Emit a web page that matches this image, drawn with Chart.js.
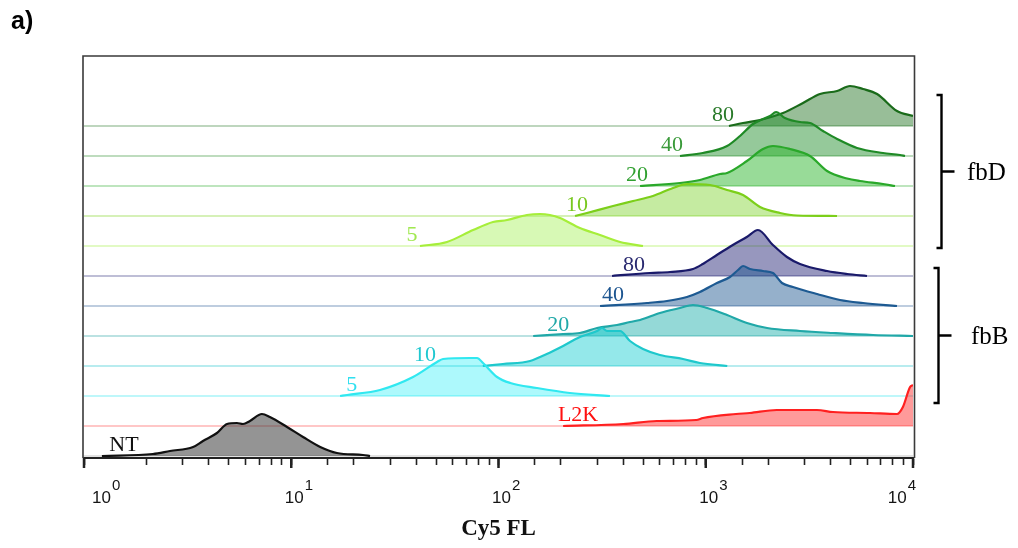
<!DOCTYPE html>
<html>
<head>
<meta charset="utf-8">
<script src="https://cdn.jsdelivr.net/npm/chart.js@4.4.1/dist/chart.umd.min.js"></script>
<style>
  html, body { margin: 0; padding: 0; background: #fff; }
  #wrap { width: 1018px; height: 548px; }
</style>
</head>
<body>
<div id="wrap"><canvas id="myChart"></canvas></div>
<script>
// Cy5 fluorescence (x) and histogram height per sample
const ntFL = [1.22, 2.15, 2.6, 3.36, 3.75, 4.38, 4.9, 5.47, 5.85, 6.32, 7.22, 7.89, 9.54, 11.4, 13.8, 16.6, 22.2, 24];
const ntCount = [0, 2, 5, 9, 15, 23, 32, 33, 32, 35, 42, 39, 29, 19, 9, 3, 1, 0];

const l2kFL = [205, 400, 580, 900, 970, 1400, 1630, 2200, 3440, 4110, 6200, 8370, 8940, 9680, 10000];
const l2kCount = [0, 2, 5, 6, 8, 12, 13, 16, 16, 14, 13, 12, 19, 39, 41];

const fbB5FL = [17.2, 18.6, 26.8, 38.7, 50.5, 54, 72.9, 78.8, 84.2, 98.4, 114, 153, 221, 345];
const fbB5Count = [0, 1, 6, 19, 34, 37, 38, 38, 33, 19, 13, 8, 3, 0];

const fbB10FL = [84, 105, 142, 171, 205, 247, 299, 316, 334, 386, 431, 498, 601, 777, 937, 1270];
const fbB10Count = [0, 2, 5, 12, 20, 29, 35, 38, 35, 35, 25, 17, 11, 7, 3, 0];

const fbB20FL = [147, 205, 247, 299, 373, 431, 482, 601, 751, 868, 1015, 1267, 1580, 1976, 2850, 4110, 6420, 10000];
const fbB20Count = [0, 2, 3, 8, 11, 14, 16, 23, 28, 31, 28, 21, 13, 8, 5, 3, 1, 0];

const fbB40FL = [309, 521, 650, 811, 937, 1132, 1309, 1431, 1513, 1635, 1888, 2110, 2332, 2635, 3444, 4446, 5741, 8372];
const fbB40Count = [0, 3, 5, 9, 14, 23, 29, 36, 40, 37, 35, 33, 23, 19, 12, 6, 3, 0];

const fbB80FL = [353, 538, 672, 868, 968, 1131, 1351, 1578, 1786, 2109, 2465, 2849, 3849, 4805, 6000];
const fbB80Count = [0, 3, 4, 7, 12, 21, 31, 39, 46, 31, 19, 12, 5, 2, 0];

const fbD5FL = [41.8, 56.4, 75.4, 94.1, 110, 137, 159, 177, 198, 247, 309, 386, 498];
const fbD5Count = [0, 4, 16, 24, 26, 31, 32, 31, 28, 18, 11, 4, 0];

const fbD10FL = [234, 267, 357, 446, 556, 695, 812, 1050, 1267, 1513, 1828, 2281, 2756, 4300];
const fbD10Count = [0, 3, 10, 15, 20, 28, 32, 31, 26, 21, 9, 3, 0.5, 0];

const fbD20FL = [482, 751, 937, 1172, 1267, 1580, 1889, 2110, 2548, 3185, 3849, 4807, 5550, 7166, 8190];
const fbD20Count = [0, 3, 6, 12, 13, 25, 37, 40, 37, 30, 15, 7.5, 5, 2, 0];

const fbD40FL = [751, 968, 1267, 1463, 1690, 1889, 2043, 2183, 2410, 2850, 3185, 3680, 4303, 5370, 7166, 8654, 9150];
const fbD40Count = [0, 3, 10, 20, 32, 37, 40, 44, 38, 34, 33, 25, 17, 8, 3, 1, 0];

const fbD80FL = [1294, 1513, 1828, 2360, 2946, 3557, 4303, 4966, 5741, 6709, 8372, 10000];
const fbD80Count = [0, 3, 6, 13, 23, 32, 35, 40, 37, 32, 15, 10];

const rowLabels = ['NT', 'L2K', '5', '10', '20', '40', '80', '5', '10', '20', '40', '80'];
const groupNames = ['fbB', 'fbD'];
const decades = [1, 10, 100, 1000, 10000];
const exponents = ['0', '1', '2', '3', '4'];

const rows = [
  [ntFL, ntCount], [l2kFL, l2kCount],
  [fbB5FL, fbB5Count], [fbB10FL, fbB10Count], [fbB20FL, fbB20Count], [fbB40FL, fbB40Count], [fbB80FL, fbB80Count],
  [fbD5FL, fbD5Count], [fbD10FL, fbD10Count], [fbD20FL, fbD20Count], [fbD40FL, fbD40Count], [fbD80FL, fbD80Count]
];

// styling
const step = 30;
const lineColors = ['#111111', '#ff2020', '#30e8f0', '#1ec8cc', '#20a8a8', '#1d5a92', '#1a1a6a',
                    '#a6ee3a', '#7ccf1a', '#2aa82a', '#1f8a26', '#1a6b1a'];
const fillColors = ['rgba(60,60,60,0.55)', 'rgba(255,30,30,0.45)', 'rgba(0,235,245,0.32)', 'rgba(0,200,205,0.42)',
                    'rgba(0,165,160,0.42)', 'rgba(20,80,140,0.45)', 'rgba(25,25,110,0.45)', 'rgba(150,240,60,0.38)',
                    'rgba(110,205,20,0.4)', 'rgba(40,180,40,0.48)', 'rgba(30,140,40,0.47)', 'rgba(26,110,26,0.45)'];
const baseColors = ['#d8d8d8', '#ffb4b4', '#a8f4f8', '#a0e6ea', '#a4d8d8', '#a8bcd4', '#a8a8c8',
                    '#d8f8b0', '#c8eca0', '#a8dca8', '#a8d0a8', '#a8c8a8'];
const labelColors = ['#111111', '#ff1010', '#30e0f0', '#20c8d0', '#20a8a8', '#1d5590', '#2a2a70',
                     '#a0e850', '#78c820', '#30a030', '#3a9a3a', '#2a7a2a'];
const labelAt = [1.56, 242, 19.6, 44.2, 194, 357, 451, 38.3, 239, 466, 687, 1211];

const datasets = [];
rows.forEach(([fl, h], i) => {
  const off = i * step;
  datasets.push({
    data: fl.map((v, j) => ({ x: v, y: off + h[j] })),
    borderColor: lineColors[i],
    backgroundColor: fillColors[i],
    borderWidth: 2.2,
    fill: { value: off },
    pointRadius: 0,
    cubicInterpolationMode: 'monotone',
    order: i
  });
});
rows.forEach((r, i) => {
  datasets.push({
    data: [{ x: 1, y: i * step }, { x: 10000, y: i * step }],
    borderColor: baseColors[i],
    borderWidth: 1.6,
    pointRadius: 0,
    fill: false,
    order: 50 + i
  });
});

const decor = {
  id: 'decor',
  afterDatasetsDraw(chart) {
    const { ctx, scales: { x, y } } = chart;
    ctx.save();
    ctx.font = '22px "Liberation Serif"';
    ctx.textAlign = 'center';
    ctx.textBaseline = 'middle';
    rowLabels.forEach((t, i) => {
      ctx.fillStyle = labelColors[i];
      ctx.fillText(t, x.getPixelForValue(labelAt[i]), y.getPixelForValue(i * step + 11));
    });
    ctx.restore();
  },
  afterDraw(chart) {
    const { ctx, chartArea: a, scales: { x, y } } = chart;
    ctx.save();
    // frame
    ctx.strokeStyle = '#3a3a3a';
    ctx.lineWidth = 1.6;
    ctx.beginPath();
    ctx.moveTo(a.left - 1, a.bottom);
    ctx.lineTo(a.left - 1, a.top);
    ctx.lineTo(a.right + 1.5, a.top);
    ctx.lineTo(a.right + 1.5, a.bottom);
    ctx.stroke();

    // major ticks + 10^n labels
    ctx.strokeStyle = '#222';
    ctx.lineWidth = 2.5;
    decades.forEach((d, i) => {
      const px = x.getPixelForValue(d);
      ctx.beginPath();
      ctx.moveTo(px, a.bottom);
      ctx.lineTo(px, a.bottom + 10);
      ctx.stroke();

      ctx.fillStyle = '#151515';
      ctx.textBaseline = 'middle';
      ctx.textAlign = 'left';
      ctx.font = '17px "Liberation Sans"';
      const wb = ctx.measureText('10').width;
      ctx.font = '15px "Liberation Sans"';
      const we = ctx.measureText(exponents[i]).width;
      let x0;
      if (i === 0) x0 = px + 8;
      else if (i === decades.length - 1) x0 = px + 3 - wb - we - 1;
      else x0 = px + 3 - wb / 2;
      ctx.font = '17px "Liberation Sans"';
      ctx.fillText('10', x0, 498);
      ctx.font = '15px "Liberation Sans"';
      ctx.fillText(exponents[i], x0 + wb + 1, 486);
    });

    // group brackets
    const brackets = [
      { top: 6 * step + 8, bottom: 2 * step - 7, bx: 938.5, tx: 971 },
      { top: 11 * step + 31, bottom: 7 * step - 2, bx: 941.5, tx: 967 }
    ];
    ctx.strokeStyle = '#000';
    ctx.lineWidth = 2.4;
    ctx.fillStyle = '#000';
    ctx.font = '25px "Liberation Serif"';
    ctx.textAlign = 'left';
    ctx.textBaseline = 'middle';
    brackets.forEach((b, i) => {
      const t = y.getPixelForValue(b.top);
      const bt = y.getPixelForValue(b.bottom);
      const m = (t + bt) / 2;
      ctx.beginPath();
      ctx.moveTo(b.bx - 5, t);
      ctx.lineTo(b.bx, t);
      ctx.lineTo(b.bx, bt);
      ctx.lineTo(b.bx - 5, bt);
      ctx.moveTo(b.bx, m);
      ctx.lineTo(b.bx + 13, m);
      ctx.stroke();
      ctx.fillText(groupNames[i], b.tx, m + 2);
    });

    // panel letter
    ctx.font = 'bold 25px "Liberation Sans"';
    ctx.fillText('a)', 11, 22);
    ctx.restore();
  }
};

new Chart(document.getElementById('myChart'), {
  type: 'line',
  data: { datasets },
  options: {
    responsive: true,
    maintainAspectRatio: false,
    animation: false,
    devicePixelRatio: 1,
    layout: { padding: { left: 84, right: 105, top: 56, bottom: 0 } },
    plugins: { legend: { display: false }, tooltip: { enabled: false } },
    scales: {
      x: {
        type: 'logarithmic',
        min: 1,
        max: 10000,
        afterFit: s => { s.height = 90; },
        border: { display: true, color: '#222', width: 2 },
        grid: { display: true, drawOnChartArea: false, drawTicks: true, tickLength: 7, tickColor: '#222', tickWidth: 1.6 },
        ticks: { autoSkip: false, maxRotation: 0, callback: () => '' },
        title: {
          display: true, text: 'Cy5 FL', color: '#111',
          font: { family: 'Liberation Serif', size: 23, weight: 'bold' },
          padding: { top: 0, bottom: 5 }
        }
      },
      y: { display: false, min: -2, max: 400 }
    }
  },
  plugins: [decor]
});
</script>
</body>
</html>
